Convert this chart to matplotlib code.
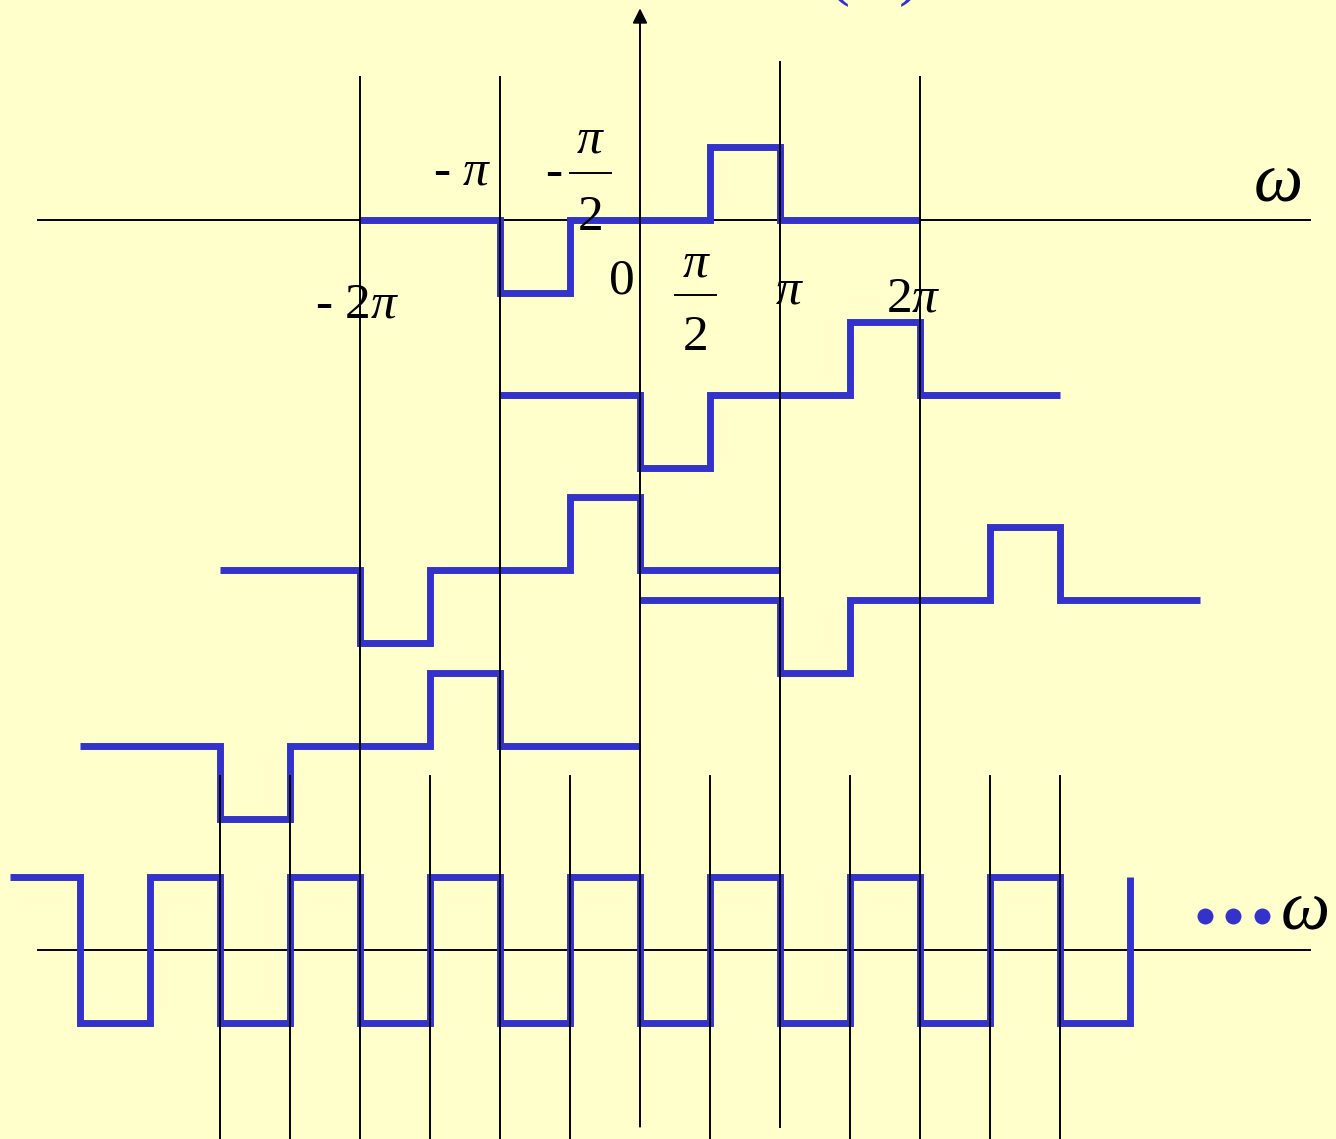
import numpy as np
import matplotlib
matplotlib.use("Agg")
import matplotlib.pyplot as plt

plt.rcParams['font.family'] = ['Liberation Serif', 'DejaVu Serif']
plt.rcParams['mathtext.fontset'] = 'custom'
plt.rcParams['mathtext.rm'] = 'Liberation Serif'
plt.rcParams['mathtext.it'] = 'Liberation Serif:italic'

BG = '#FFFFCC'
BLUE = '#3333CC'

# omega axis in units of pi/2
# shifted spectra: (edges, levels relative to baseline, baseline)
row_edges = [
    [-4, -2, -1, 1, 2, 4],
    [-2, 0, 1, 3, 4, 6],
    [-6, -4, -3, -1, 0, 2],
    [0, 2, 3, 5, 6, 8],
    [-8, -6, -5, -3, -2, 0],
]
row_levels = [0, -1, 0, 1, 0]
row_base = [10.0, 7.6, 5.2, 4.8, 2.8]

# periodic sum at the bottom
sum_edges = list(range(-9, 8))
sum_levels = [1, -1, 1, -1, 1, -1, 1, -1, 1, -1, 1, -1, 1, -1, 1, -1, 1]

# vertical reference lines: position, top, bottom
long_k = [-4, -2, 4]
long_top = 11.96
mid_k = [2]
mid_top, mid_bottom = 12.16, -2.42
short_k = [-6, -5, -3, -1, 1, 3, 5, 6]
short_top = 2.38
axis_top, axis_bottom = 12.9, -2.42

XMIN, XMAX = -640 / 70, 696 / 70
YMIN, YMAX = (950 - 1139) / 73, 950 / 73

fig = plt.figure(figsize=(13.36, 11.39), dpi=100, facecolor=BG)
ax = fig.add_axes([0, 0, 1, 1])
ax.set_facecolor(BG)
ax.set_xlim(XMIN, XMAX)
ax.set_ylim(YMIN, YMAX)
ax.axis('off')

# horizontal axes
for y0 in (10.0, 0.0):
    ax.plot([-8.6, 9.57], [y0, y0], color='black', lw=1.4, zorder=1)

# step spectra
step_kw = dict(where='post', color=BLUE, lw=5, zorder=2,
               solid_joinstyle='miter', solid_capstyle='butt')
for edges, base in zip(row_edges, row_base):
    lv = np.array(row_levels + [row_levels[-1]]) + base
    ax.step(edges, lv, **step_kw)
ax.step(sum_edges, sum_levels, **step_kw)

# vertical lines
for k in long_k:
    ax.plot([k, k], [long_top, YMIN], color='black', lw=1.4, zorder=3)
for k in mid_k:
    ax.plot([k, k], [mid_top, mid_bottom], color='black', lw=1.4, zorder=3)
for k in short_k:
    ax.plot([k, k], [short_top, YMIN], color='black', lw=1.4, zorder=3)
ax.annotate('', xy=(0, axis_top), xytext=(0, axis_bottom),
            arrowprops=dict(arrowstyle='-|>', color='black', lw=1.4,
                            mutation_scale=22, shrinkA=0, shrinkB=0),
            zorder=3)

fs = 37
def label(x, y, s, size=fs, **kw):
    ax.text(x, y, s, fontsize=size, ha='center', va='baseline', **kw)

label(-4.04, 8.67, r'- 2$\pi$')
label(-2.54, 10.48, r'- $\pi$')
label(-1.23, 10.47, '-')
label(-0.71, 10.92, r'$\pi$')
ax.plot([-1.0, -0.41], [10.64, 10.64], color='black', lw=1.4)
label(-0.71, 9.86, '2')
label(-0.26, 9.0, '0')
label(0.8, 9.22, r'$\pi$')
ax.plot([0.5, 1.09], [8.97, 8.97], color='black', lw=1.4)
label(0.8, 8.22, '2')
label(2.14, 8.86, r'$\pi$')
label(3.91, 8.74, r'2$\pi$')
label(9.1, 10.27, r'$\omega$', size=50)
label(9.49, 0.30, r'$\omega$', size=50)
ax.plot([8.07, 8.47, 8.89], [0.466] * 3, 'o', color=BLUE, ms=11.5,
        markeredgewidth=0)
label(3.33, 13.12, r'($\omega$)', size=50, color=BLUE, clip_on=False)

fig.savefig('out.png', dpi=100, facecolor=BG)
